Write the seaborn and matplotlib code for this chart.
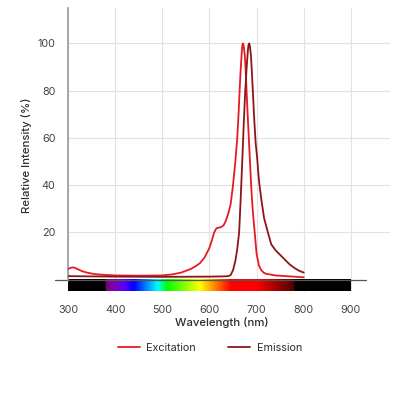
import numpy as np
import pandas as pd
import matplotlib
matplotlib.use("Agg")
import matplotlib.pyplot as plt
import seaborn as sns

# ---------------- data ----------------
exc_wl = [300, 305, 310, 315, 320, 330, 340, 350, 360, 380, 400, 450, 500, 520, 540, 560, 570, 580,
          590, 600, 605, 610, 615, 620, 625, 630, 635, 640, 645, 650, 655, 659, 662, 664, 666, 668,
          669, 670, 671, 672, 673, 675, 677, 679, 682, 686, 689, 692, 696, 700, 705, 710, 715, 720,
          740, 770, 800]
exc_val = [4.5, 5.0, 5.2, 5.0, 4.5, 3.6, 3.0, 2.6, 2.3, 2.0, 1.8, 1.7, 1.8, 2.2, 3.0, 4.5, 5.6, 7.0,
           9.5, 13.5, 16.5, 20.0, 21.8, 22.0, 22.3, 23.0, 25.0, 28.0, 32.0, 40.0, 50.0, 60.0, 71.0, 80.0, 88.0, 94.5,
           97.5, 99.4, 100.0, 99.6, 98.5, 95.0, 88.0, 79.0, 66.0, 50.0, 38.0, 29.0, 20.0, 11.0, 6.0, 4.0, 3.0, 2.5,
           1.8, 1.4, 1.0]

em_wl = [300, 400, 500, 600, 630, 640, 645, 650, 655, 659, 663, 666, 670, 673, 676, 679, 681, 682,
         683, 684, 685, 686, 688, 690, 692, 695, 698, 701, 705, 710, 716, 724, 731, 740, 750, 760,
         770, 780, 790, 800]
em_val = [1.5, 1.3, 1.2, 1.3, 1.4, 1.5, 2.0, 4.0, 8.0, 13.0, 20.0, 33.0, 52.0, 67.0, 80.0, 90.0, 95.5, 98.0,
          99.5, 100.0, 99.6, 98.6, 95.0, 88.0, 80.0, 68.0, 58.0, 52.0, 42.0, 34.0, 26.0, 20.0, 15.0, 12.5, 10.5, 8.5,
          6.5, 5.0, 3.8, 3.0]

x_ticks = [300, 400, 500, 600, 700, 800, 900]
y_ticks = [20, 40, 60, 80, 100]
series_names = ["Excitation", "Emission"]
series_colors = ["#e51b24", "#8c1519"]

df = pd.concat([
    pd.DataFrame({"wl": exc_wl, "val": exc_val, "series": "Excitation"}),
    pd.DataFrame({"wl": em_wl, "val": em_val, "series": "Emission"}),
], ignore_index=True)


def wavelength_rgb(w):
    if 380 <= w < 440:
        r, g, b = -(w - 440) / 60.0, 0.0, 1.0
    elif 440 <= w < 490:
        r, g, b = 0.0, (w - 440) / 50.0, 1.0
    elif 490 <= w < 510:
        r, g, b = 0.0, 1.0, -(w - 510) / 20.0
    elif 510 <= w < 580:
        r, g, b = (w - 510) / 70.0, 1.0, 0.0
    elif 580 <= w < 645:
        r, g, b = 1.0, -(w - 645) / 65.0, 0.0
    elif 645 <= w <= 780:
        r, g, b = 1.0, 0.0, 0.0
    else:
        r, g, b = 0.0, 0.0, 0.0
    if 380 <= w < 420:
        f = 0.45 + 0.55 * (w - 380) / 40.0
    elif 420 <= w < 700:
        f = 1.0
    elif 700 <= w <= 780:
        f = 0.3 + 0.7 * (780 - w) / 80.0
    else:
        f = 0.0
    return (r * f, g * f, b * f)


# ---------------- figure ----------------
sns.set_theme(style="white")
plt.rcParams["font.family"] = ["Inter", "DejaVu Sans"]

W, H = 408, 394
fig = plt.figure(figsize=(W / 100, H / 100), dpi=100)
ax = fig.add_axes([68 / W, 1 - 291.5 / H, (390 - 68) / W, (291.5 - 8) / H])

grid_c = "#e2e2e2"
ax.set_xticks(x_ticks)
ax.set_yticks(y_ticks)
ax.grid(True, color=grid_c, lw=0.8, zorder=0)
ax.set_axisbelow(True)
ax.tick_params(axis="both", which="both", length=6, width=0.8, color=grid_c,
               labelsize=7.8, labelcolor="#444444", pad=3)
ax.tick_params(axis="x", pad=4)

for s in ["top", "right", "bottom"]:
    ax.spines[s].set_visible(False)
ax.spines["left"].set_color("#9a9a9a")
ax.spines["left"].set_linewidth(1.2)
ax.spines["left"].set_bounds(0, 115)

# spectrum bar
wls = np.arange(300, 901, 1)
rgb = np.array([wavelength_rgb(w) for w in wls])
ax.imshow(rgb[np.newaxis, :, :], extent=[300, 900, -5, 0], aspect="auto",
          interpolation="bilinear", zorder=1)
ax.set_xlim(300, 983)
ax.set_ylim(-5, 115)

# baseline
ax.plot([272, 933], [0, 0], color="#555555", lw=0.9, clip_on=False, zorder=2)

sns.lineplot(data=df, x="wl", y="val", hue="series", hue_order=series_names,
             palette=dict(zip(series_names, series_colors)), ax=ax, lw=1.3,
             zorder=3, sort=False)
for ln in ax.get_lines():
    ln.set_solid_joinstyle("round")
ax.set_xlabel("")
ax.set_ylabel("")

sns.move_legend(ax, "center", bbox_to_anchor=((210 - 68) / 322, (291.5 - 348) / 283.5),
                ncol=2, frameon=False, title=None, fontsize=7.8,
                handlelength=2.0, handletextpad=0.6, columnspacing=3.0)
for t in ax.get_legend().get_texts():
    t.set_color("#2e2e2e")

fig.text(222 / W, 1 - 322 / H, "Wavelength (nm)", ha="center", va="center",
         fontsize=8.2, color="#2e2e2e", fontweight="medium")
fig.text(27 / W, 1 - 155 / H, "Relative Intensity (%)", ha="center", va="center",
         rotation=90, fontsize=8.2, color="#2e2e2e", fontweight="medium")

fig.savefig("out.png", dpi=100)
